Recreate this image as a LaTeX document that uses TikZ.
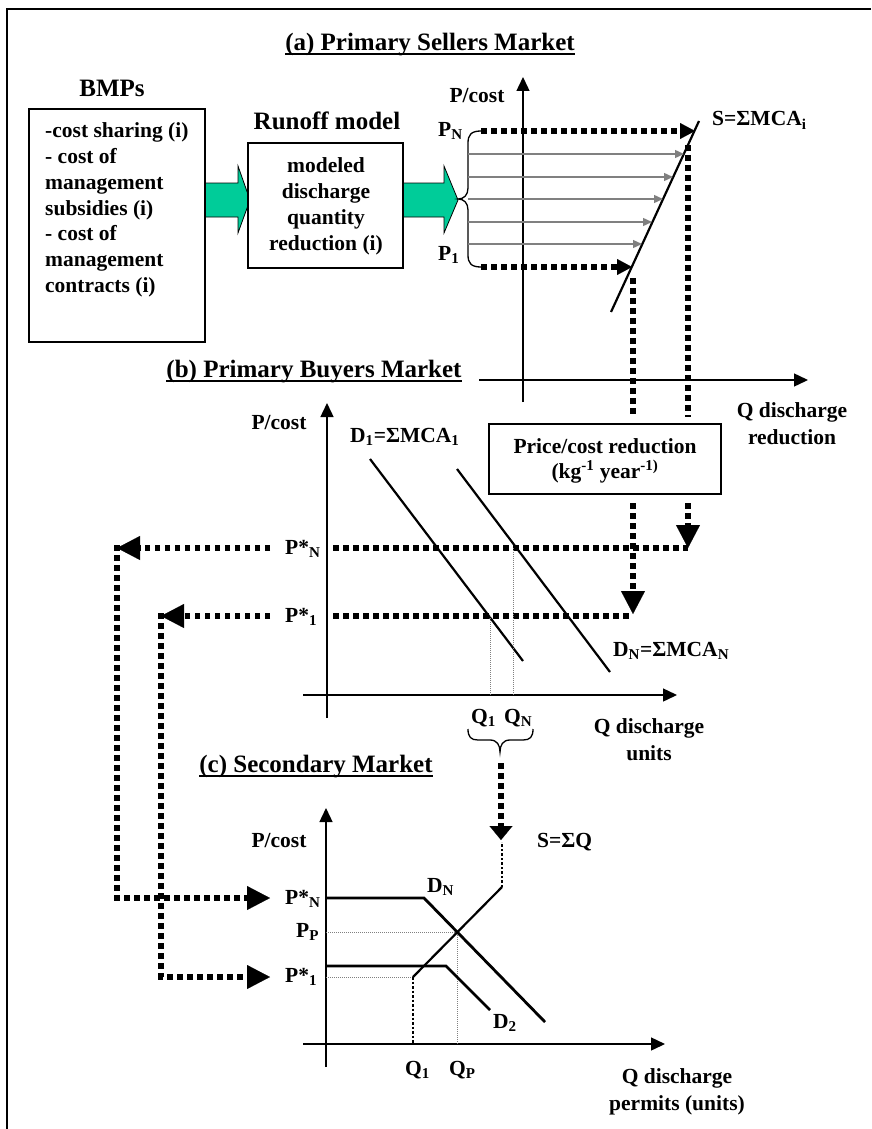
\documentclass[tikz,border=0pt]{standalone}
\usepackage{fontspec}
\setmainfont{Liberation Serif}
\usetikzlibrary{arrows.meta}
\definecolor{arrgreen}{RGB}{0,204,153}
\newcommand\ultitle[1]{\setbox0=\hbox{#1}\rlap{\rule[-4.5pt]{\wd0}{2pt}}\box0}
\begin{document}
\begin{tikzpicture}[x=1pt,y=-1pt,
  lab/.style={font=\bfseries\fontsize{21.5}{26}\selectfont, inner sep=0pt, anchor=base west},
  labc/.style={lab, anchor=base},
  head/.style={font=\bfseries\fontsize{25}{30}\selectfont, inner sep=0pt, anchor=base},
  box/.style={draw, line width=2pt, fill=white, inner sep=0pt},
  axis/.style={line width=1.4pt, -{Triangle[length=14pt,width=13pt]}},
  thickdot/.style={line width=5.5pt, dash pattern=on 5.5pt off 4.5pt},
  densedot/.style={line width=2.5pt, dash pattern=on 2.5pt off 2pt},
  thindot/.style={line width=0.8pt, gray, dash pattern=on 1pt off 1pt},
  bigtip/.style={-{Triangle[length=23pt,width=24pt,line width=0.1pt]}},
  midtip/.style={-{Triangle[length=15pt,width=16pt,line width=0.1pt]}},
  smalltip/.style={-{Triangle[length=14pt,width=23pt,line width=0.1pt]}},
  grayarr/.style={line width=1.3pt, draw={rgb,255:red,128;green,128;blue,128}, -{Triangle[length=9pt,width=8pt]}},
  dline/.style={line width=2.2pt},
  brace/.style={line width=1.3pt}
]
\useasboundingbox (0,0) rectangle (871,1129);

% frame
\coordinate (ftl) at (7,9);
\coordinate (ftr) at (871,9);
\coordinate (fbl) at (7,1129);
\draw[line width=2.5pt] (ftr) -- (ftl) -- (fbl);

% titles
\node[head] (ta) at (430,51) {\ultitle{(a) Primary Sellers Market}};
\node[head] (tb) at (314,377) {\ultitle{(b) Primary Buyers Market}};
\node[head] (tc) at (316,772) {\ultitle{(c) Secondary Market}};

% green arrows
\filldraw[fill=arrgreen, draw=black, line width=0.8pt] (205,183) -- (238,183) -- (238,166) -- (250,200) -- (238,233) -- (238,217) -- (205,217) -- cycle;
\filldraw[fill=arrgreen, draw=black, line width=0.8pt] (403,183) -- (444,183) -- (444,166) -- (458,200) -- (444,233) -- (444,217) -- (403,217) -- cycle;

% BMPs
\node[head] (bmph) at (112,97) {BMPs};
\node[box, minimum width=176pt, minimum height=233pt] (bmpbox) at (117,225.5) {};
\foreach \t [count=\i] in {-cost sharing (i),- cost of,management,subsidies (i),- cost of,management,contracts (i)}
  \node[lab] (bl\i) at (45,{138+25.7*(\i-1)}) {\t};

% Runoff model
\node[head] (rmh) at (327,130) {Runoff model};
\node[box, minimum width=155pt, minimum height=125pt] (rbox) at (325.5,205.5) {};
\node[labc] (r1) at (326,172) {modeled};
\node[labc] (r2) at (326,198) {discharge};
\node[labc] (r3) at (326,224) {quantity};
\node[labc] (r4) at (326,250) {reduction (i)};

% chart (a)
\draw[axis] (523,402) -- (523,77);
\draw[axis] (479,380) -- (808,380);
\node[labc] (pca) at (477,103) {P/cost};
\node[lab] (pNa) at (438,136) {P\textsubscript{N}};
\node[lab] (p1a) at (438,260) {P\textsubscript{1}};
\coordinate (s1) at (611,312);
\coordinate (s2) at (699,121);
\draw[dline] (s1) -- (s2);
\node[lab] (sla) at (712,126) {S=ΣMCA\textsubscript{i}};
\draw[brace] (481,131) .. controls (471,131) and (468,135) .. (468,143) -- (468,188) .. controls (468,195) and (464,199) .. (458,199) .. controls (464,199) and (468,203) .. (468,210) -- (468,255) .. controls (468,263) and (471,267) .. (481,267);
\foreach \yy/\xx in {154/684,177/673,199/663,222/652,244/642}
  \draw[grayarr] (468,\yy) -- (\xx,\yy);
\draw[thickdot, midtip] (481,131) -- (695,131);
\draw[thickdot, midtip] (481,267) -- (632,267);
\draw[thickdot] (633,278) -- (633,417);
\draw[thickdot] (688,145) -- (688,417);
\node[draw, line width=1.5pt, minimum width=232pt, minimum height=70pt, inner sep=0pt] (pbox) at (605,459) {};
\node[labc] (pb1) at (605,453) {Price/cost reduction};
\node[labc] (pb2) at (605,478) {(kg\textsuperscript{-1} year\textsuperscript{-1)}};
\node[labc] (qa1) at (792,417) {Q discharge};
\node[labc] (qa2) at (792,444) {reduction};
\draw[thickdot, bigtip] (633,503) -- (633,614);
\draw[thickdot, bigtip] (688,503) -- (688,548);

% chart (b)
\draw[axis] (327,718) -- (327,403);
\draw[axis] (303,695) -- (677,695);
\node[labc] (pcb) at (279,429) {P/cost};
\draw[dline] (370,459) -- (523,661);
\draw[dline] (457,469) -- (610,672);
\node[lab] (d1b) at (350,442) {D\textsubscript{1}=ΣMCA\textsubscript{1}};
\node[lab] (dNb) at (613,656) {D\textsubscript{N}=ΣMCA\textsubscript{N}};
\node[lab] (pNb) at (285,554) {P*\textsubscript{N}};
\node[lab] (p1b) at (285,622) {P*\textsubscript{1}};
\draw[thickdot] (333,548) -- (688,548);
\draw[thickdot] (333,616) -- (633,616);
\coordinate (cN) at (117,548);
\coordinate (cNb) at (117,898);
\coordinate (c1) at (161,616);
\coordinate (c1b) at (161,977);
\draw[thickdot, bigtip] (270,548) -- (cN);
\draw[thickdot, bigtip] ([yshift=3pt]cN) -- (cNb) -- (270,898);
\draw[thickdot, bigtip] (270,616) -- (c1);
\draw[thickdot, bigtip] ([yshift=3pt]c1) -- (c1b) -- (270,977);
\draw[thindot] (490,616) -- (490,695);
\draw[thindot] (513,548) -- (513,695);
\node[lab] (q1b) at (471,723) {Q\textsubscript{1}};
\node[lab] (qNb) at (504,723) {Q\textsubscript{N}};
\draw[brace] (468,729) .. controls (468,737) and (471,740) .. (478,740) -- (490,740) .. controls (497,740) and (500,745) .. (500,752) .. controls (500,745) and (503,740) .. (510,740) -- (523,740) .. controls (530,740) and (533,737) .. (533,729);
\node[labc] (qb1) at (649,733) {Q discharge};
\node[labc] (qb2) at (649,760) {units};
\draw[thickdot, smalltip] (501,763) -- (501,840);
\node[lab] (slc) at (537,847) {S=ΣQ};

% chart (c)
\draw[axis] (326,1067) -- (326,808);
\draw[axis] (303,1044) -- (665,1044);
\node[labc] (pcc) at (279,847) {P/cost};
\node[lab] (pNc) at (285,904) {P*\textsubscript{N}};
\node[lab] (pPc) at (296,937) {P\textsubscript{P}};
\node[lab] (p1c) at (285,982) {P*\textsubscript{1}};
\draw[thindot] (326,932) -- (457,932) -- (457,1044);
\draw[thindot] (326,977) -- (413,977);
\draw[line width=2.8pt] (326,898) -- (424,898) -- (545,1022);
\draw[line width=2.8pt] (326,966) -- (446,966) -- (490,1010);
\draw[dline] (413,977) -- (502,887);
\draw[densedot] (502,887) -- (502,842);
\draw[densedot] (413,977) -- (413,1044);
\node[lab] (dNc) at (427,892) {D\textsubscript{N}};
\node[lab] (d2c) at (493,1028) {D\textsubscript{2}};
\node[lab] (q1c) at (405,1075) {Q\textsubscript{1}};
\node[lab] (qPc) at (449,1075) {Q\textsubscript{P}};
\node[labc] (qc1) at (677,1083) {Q discharge};
\node[labc] (qc2) at (677,1110) {permits (units)};
\end{tikzpicture}
\end{document}
